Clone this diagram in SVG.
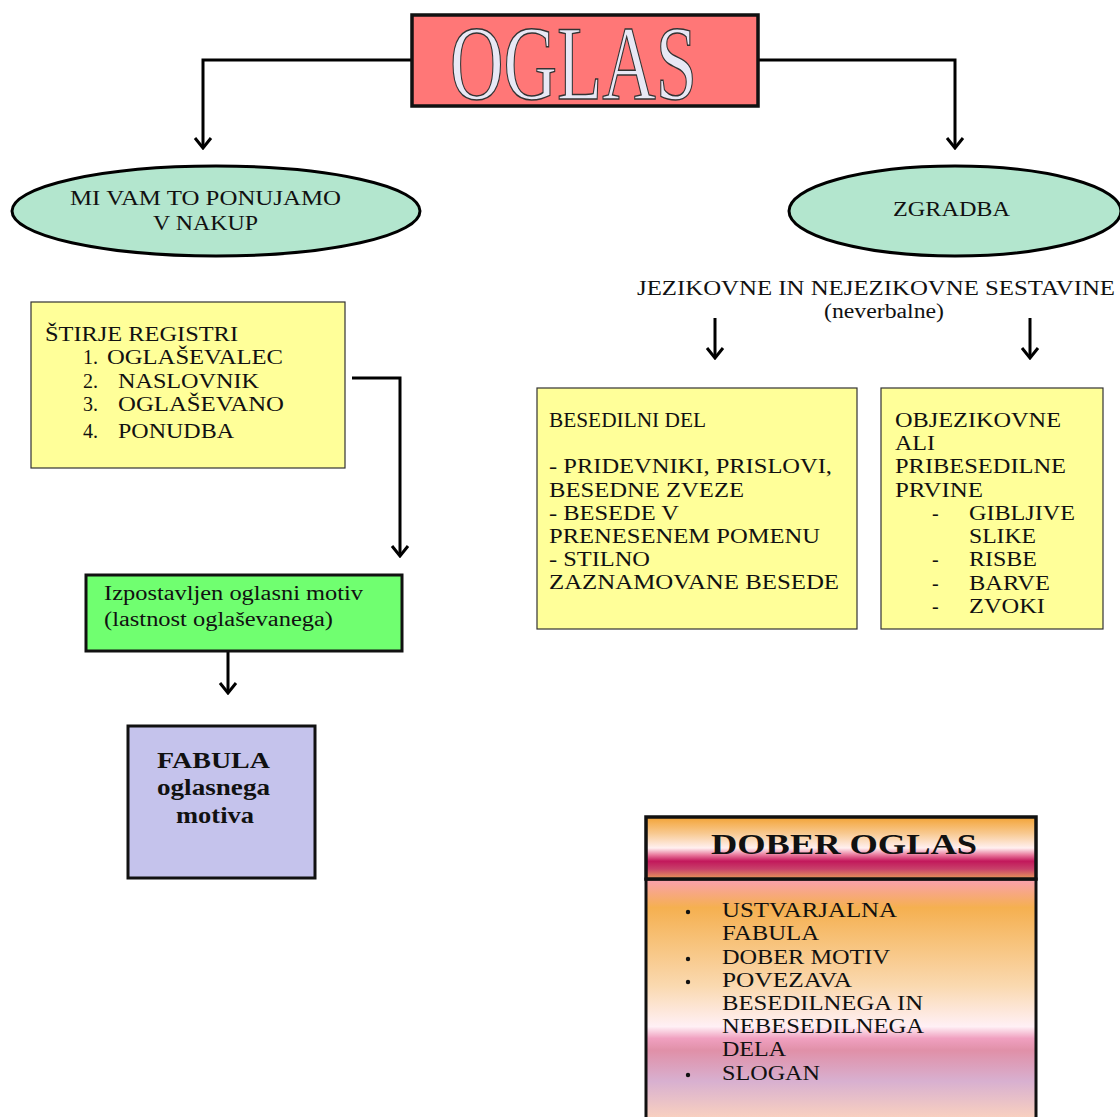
<svg xmlns="http://www.w3.org/2000/svg" width="1120" height="1117" viewBox="0 0 1120 1117">
<style>
.t{font-family:"Liberation Serif","Times New Roman",serif;font-size:20px;fill:#111}
.tb{font-family:"Liberation Serif","Times New Roman",serif;font-weight:bold;fill:#111}
.ell{fill:#B3E6CE;stroke:#000;stroke-width:3}
.yel{fill:#FFFF99;stroke:#333;stroke-width:1.2}
.con{fill:none;stroke:#000;stroke-width:3}
</style>
<defs>
<marker id="ah" viewBox="0 0 14 20" refX="12" refY="10" markerWidth="14" markerHeight="20" markerUnits="userSpaceOnUse" orient="auto">
<polyline points="2,2 12,10 2,18" fill="none" stroke="#000" stroke-width="3"/>
</marker>
<linearGradient id="gh" gradientUnits="userSpaceOnUse" x1="0" y1="818" x2="0" y2="878">
<stop offset="0" stop-color="#F3A53A"/>
<stop offset="0.25" stop-color="#F8C88E"/>
<stop offset="0.5" stop-color="#FFF0F0"/>
<stop offset="0.62" stop-color="#E8759A"/>
<stop offset="0.72" stop-color="#C2185B"/>
<stop offset="0.85" stop-color="#C8406A"/>
<stop offset="1" stop-color="#E8925A"/>
</linearGradient>
<linearGradient id="gb" gradientUnits="userSpaceOnUse" x1="0" y1="879" x2="0" y2="1117">
<stop offset="0" stop-color="#F9A0B0"/>
<stop offset="0.12" stop-color="#F5B050"/>
<stop offset="0.45" stop-color="#FAD9B0"/>
<stop offset="0.62" stop-color="#FFF0F5"/>
<stop offset="0.67" stop-color="#F0A0C0"/>
<stop offset="0.72" stop-color="#E090A8"/>
<stop offset="0.85" stop-color="#D8B0D0"/>
<stop offset="1" stop-color="#F8D0C0"/>
</linearGradient>
</defs>

<g id="connectors">
<path class="con" d="M412,60 H203 V148" marker-end="url(#ah)"/>
<path class="con" d="M758,60 H955 V148" marker-end="url(#ah)"/>
<path class="con" d="M352,378 H400 V556" marker-end="url(#ah)"/>
<path class="con" d="M228,651 V693" marker-end="url(#ah)"/>
<path class="con" d="M715,318 V358" marker-end="url(#ah)"/>
<path class="con" d="M1030,318 V358" marker-end="url(#ah)"/>
</g>

<g id="oglas">
<rect x="412" y="15" width="346" height="91" fill="#FF7777" stroke="#111" stroke-width="3.5"/>
<text x="450" y="99" font-family="Liberation Serif,Times New Roman,serif" font-size="106" textLength="247" lengthAdjust="spacingAndGlyphs" fill="#E8E8F5" stroke="#333" stroke-width="1.5">OGLAS</text>
</g>

<g id="mivam">
<ellipse class="ell" cx="216" cy="211" rx="204" ry="45"/>
<text class="t" x="70" y="205" textLength="271" lengthAdjust="spacingAndGlyphs">MI VAM TO PONUJAMO</text>
<text class="t" x="153" y="230" textLength="105" lengthAdjust="spacingAndGlyphs">V NAKUP</text>
</g>

<g id="zgradba">
<ellipse class="ell" cx="955" cy="211" rx="166" ry="45"/>
<text class="t" x="893" y="216" textLength="117" lengthAdjust="spacingAndGlyphs">ZGRADBA</text>
</g>

<g id="registri">
<rect class="yel" x="31" y="302" width="314" height="166"/>
<text class="t" x="45" y="341" textLength="193" lengthAdjust="spacingAndGlyphs">ŠTIRJE REGISTRI</text>
<text class="t" x="83" y="364">1.</text><text class="t" x="107" y="364" textLength="176" lengthAdjust="spacingAndGlyphs">OGLAŠEVALEC</text>
<text class="t" x="83" y="388">2.</text><text class="t" x="118" y="388" textLength="141" lengthAdjust="spacingAndGlyphs">NASLOVNIK</text>
<text class="t" x="83" y="411">3.</text><text class="t" x="118" y="411" textLength="166" lengthAdjust="spacingAndGlyphs">OGLAŠEVANO</text>
<text class="t" x="83" y="438">4.</text><text class="t" x="118" y="438" textLength="116" lengthAdjust="spacingAndGlyphs">PONUDBA</text>
</g>

<g id="motiv">
<rect x="86" y="575" width="316" height="76" fill="#70FF70" stroke="#111" stroke-width="3"/>
<text class="t" x="104" y="600" textLength="259" lengthAdjust="spacingAndGlyphs">Izpostavljen oglasni motiv</text>
<text class="t" x="104" y="626" textLength="229" lengthAdjust="spacingAndGlyphs">(lastnost oglaševanega)</text>
</g>

<g id="fabula">
<rect x="128" y="726" width="187" height="152" fill="#C5C3EC" stroke="#111" stroke-width="3"/>
<text class="tb" font-size="23" x="157" y="768" textLength="113" lengthAdjust="spacingAndGlyphs">FABULA</text>
<text class="tb" font-size="23" x="157" y="795" textLength="113" lengthAdjust="spacingAndGlyphs">oglasnega</text>
<text class="tb" font-size="23" x="176" y="823" textLength="78" lengthAdjust="spacingAndGlyphs">motiva</text>
</g>

<g id="sestavine">
<text class="t" x="637" y="295" textLength="478" lengthAdjust="spacingAndGlyphs">JEZIKOVNE IN NEJEZIKOVNE SESTAVINE</text>
<text class="t" font-size="17" x="824" y="318" textLength="120" lengthAdjust="spacingAndGlyphs">(neverbalne)</text>
</g>

<g id="besedilni">
<rect class="yel" x="537" y="388" width="320" height="241"/>
<text class="t" x="549" y="427" textLength="157" lengthAdjust="spacingAndGlyphs">BESEDILNI DEL</text>
<text class="t" x="549" y="473" textLength="283" lengthAdjust="spacingAndGlyphs">- PRIDEVNIKI, PRISLOVI,</text>
<text class="t" x="549" y="497" textLength="195" lengthAdjust="spacingAndGlyphs">BESEDNE ZVEZE</text>
<text class="t" x="549" y="520" textLength="130" lengthAdjust="spacingAndGlyphs">- BESEDE V</text>
<text class="t" x="549" y="543" textLength="271" lengthAdjust="spacingAndGlyphs">PRENESENEM POMENU</text>
<text class="t" x="549" y="566" textLength="101" lengthAdjust="spacingAndGlyphs">- STILNO</text>
<text class="t" x="549" y="589" textLength="290" lengthAdjust="spacingAndGlyphs">ZAZNAMOVANE BESEDE</text>
</g>

<g id="objezikovne">
<rect class="yel" x="881" y="388" width="222" height="241"/>
<text class="t" x="895" y="427" textLength="166" lengthAdjust="spacingAndGlyphs">OBJEZIKOVNE</text>
<text class="t" x="895" y="450" textLength="40" lengthAdjust="spacingAndGlyphs">ALI</text>
<text class="t" x="895" y="473" textLength="171" lengthAdjust="spacingAndGlyphs">PRIBESEDILNE</text>
<text class="t" x="895" y="497" textLength="88" lengthAdjust="spacingAndGlyphs">PRVINE</text>
<text class="t" x="932" y="520">-</text><text class="t" x="969" y="520" textLength="106" lengthAdjust="spacingAndGlyphs">GIBLJIVE</text>
<text class="t" x="969" y="543" textLength="67" lengthAdjust="spacingAndGlyphs">SLIKE</text>
<text class="t" x="932" y="566">-</text><text class="t" x="969" y="566" textLength="68" lengthAdjust="spacingAndGlyphs">RISBE</text>
<text class="t" x="932" y="590">-</text><text class="t" x="969" y="590" textLength="81" lengthAdjust="spacingAndGlyphs">BARVE</text>
<text class="t" x="932" y="613">-</text><text class="t" x="969" y="613" textLength="76" lengthAdjust="spacingAndGlyphs">ZVOKI</text>
</g>

<g id="dober">
<rect x="646" y="879" width="390" height="250" fill="url(#gb)" stroke="#111" stroke-width="3"/>
<rect x="646" y="817" width="390" height="62" fill="url(#gh)" stroke="#111" stroke-width="3.5"/>
<text class="tb" font-size="30" x="711" y="854" textLength="266" lengthAdjust="spacingAndGlyphs">DOBER OGLAS</text>
<circle cx="688" cy="912" r="2.2" fill="#111"/>
<circle cx="688" cy="959" r="2.2" fill="#111"/>
<circle cx="688" cy="982" r="2.2" fill="#111"/>
<circle cx="688" cy="1075" r="2.2" fill="#111"/>
<text class="t" x="722" y="917" textLength="175" lengthAdjust="spacingAndGlyphs">USTVARJALNA</text>
<text class="t" x="722" y="940" textLength="97" lengthAdjust="spacingAndGlyphs">FABULA</text>
<text class="t" x="722" y="964" textLength="168" lengthAdjust="spacingAndGlyphs">DOBER MOTIV</text>
<text class="t" x="722" y="987" textLength="130" lengthAdjust="spacingAndGlyphs">POVEZAVA</text>
<text class="t" x="722" y="1010" textLength="201" lengthAdjust="spacingAndGlyphs">BESEDILNEGA IN</text>
<text class="t" x="722" y="1033" textLength="202" lengthAdjust="spacingAndGlyphs">NEBESEDILNEGA</text>
<text class="t" x="722" y="1056" textLength="64" lengthAdjust="spacingAndGlyphs">DELA</text>
<text class="t" x="722" y="1080" textLength="98" lengthAdjust="spacingAndGlyphs">SLOGAN</text>
</g>
</svg>
